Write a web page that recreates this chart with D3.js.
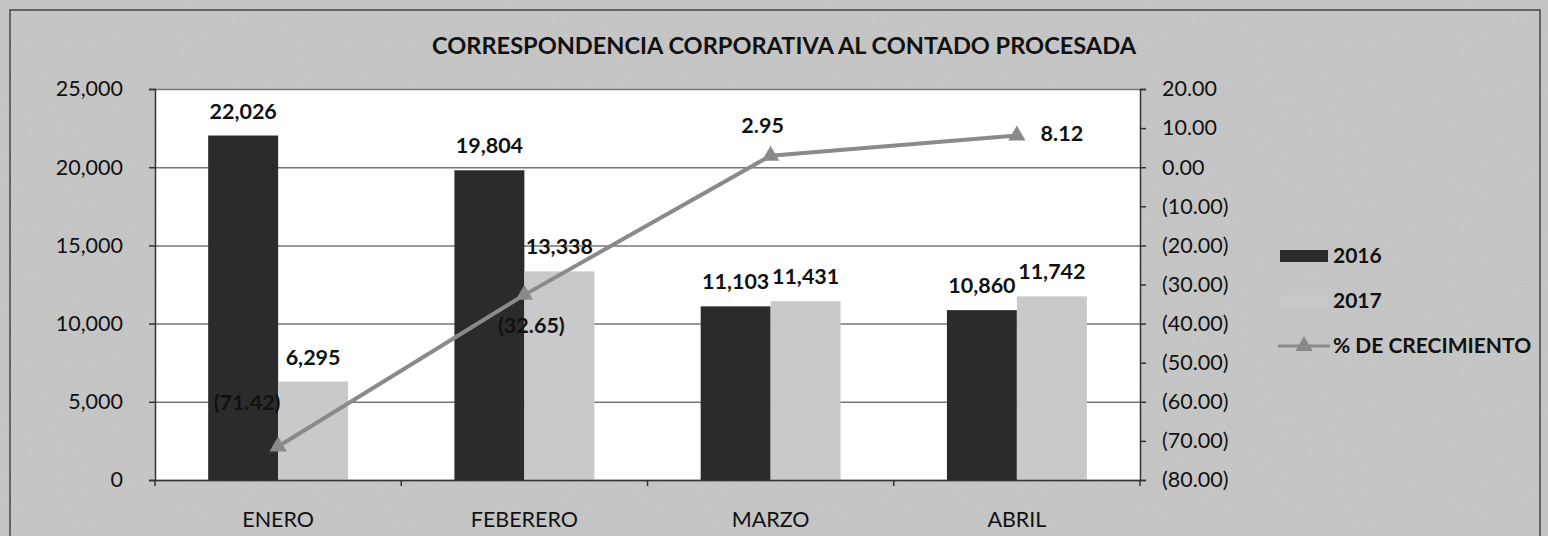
<!DOCTYPE html>
<html>
<head>
<meta charset="utf-8">
<script src="https://cdn.jsdelivr.net/npm/d3@7"></script>
<style>
  html, body { margin: 0; padding: 0; background: #c8c8c8; }
  svg text { font-family: Lato, "Open Sans", sans-serif; fill: #111; }
</style>
</head>
<body>
<div id="chart"></div>
<script>
/* DATA */
const months = ["ENERO", "FEBERERO", "MARZO", "ABRIL"];
const series = ["2016", "2017"];
const values2016 = [22026, 19804, 11103, 10860];
const values2017 = [6295, 13338, 11431, 11742];
const growth = [-71.42, -32.65, 2.95, 8.12];
const leftTicks = [0, 5000, 10000, 15000, 20000, 25000];
const rightTicks = [-80, -70, -60, -50, -40, -30, -20, -10, 0, 10, 20];
const titleText = "CORRESPONDENCIA CORPORATIVA AL CONTADO PROCESADA";
const lineName = "% DE CRECIMIENTO";

const W = 1548, H = 536;
const plot = { left: 155, right: 1140, top: 89, bottom: 480 };
const barColors = { "2016": "#2b2b2e", "2017": "#c9c9cc" };
const lineColor = "#8a8a8c";

const svg = d3.select("#chart").append("svg")
    .attr("width", W)
    .attr("height", H);

// grainy scan texture
const defs = svg.append("defs");
const noise = defs.append("filter").attr("id", "grain")
    .attr("x", 0).attr("y", 0).attr("width", "100%").attr("height", "100%");
noise.append("feTurbulence").attr("type", "fractalNoise")
    .attr("baseFrequency", 0.8).attr("numOctaves", 2).attr("seed", 3);
noise.append("feColorMatrix").attr("type", "matrix")
    .attr("values", "0 0 0 0 0.45  0 0 0 0 0.45  0 0 0 0 0.45  0 0 0 0.6 -0.1");

svg.append("rect").attr("width", W).attr("height", H).attr("fill", "#c9c9c9");
svg.append("rect").attr("width", W).attr("height", H).attr("filter", "url(#grain)");

// outer frame
svg.append("rect")
    .attr("x", 10).attr("y", 10)
    .attr("width", 1530).attr("height", 540)
    .attr("fill", "none").attr("stroke", "#444").attr("stroke-width", 1.5);

// plot area
svg.append("rect")
    .attr("x", plot.left).attr("y", plot.top)
    .attr("width", plot.right - plot.left).attr("height", plot.bottom - plot.top)
    .attr("fill", "#fff");

/* SCALES */
const x = d3.scaleBand().domain(months).range([plot.left, plot.right]);
const xSub = d3.scaleBand().domain(series).range([0, x.bandwidth()])
    .paddingInner(0).paddingOuter(0.76);
const yLeft = d3.scaleLinear().domain([0, 25000]).range([plot.bottom, plot.top]);
const yRight = d3.scaleLinear().domain([-80, 20]).range([plot.bottom, plot.top]);

const fmtInt = d3.format(",");
const fmtPct = v => v < 0 ? "(" + d3.format(".2f")(-v) + ")" : d3.format(".2f")(v);

// gridlines
svg.append("g")
    .attr("transform", `translate(${plot.left},0)`)
    .call(d3.axisLeft(yLeft).tickValues(leftTicks).tickSize(-(plot.right - plot.left)).tickFormat(""))
    .call(g => g.select(".domain").remove())
    .call(g => g.selectAll("line").attr("stroke", "#777").attr("stroke-width", 1.5));

/* BARS */
const rows = months.map((m, i) => ({ month: m, "2016": values2016[i], "2017": values2017[i] }));

const groups = svg.append("g").selectAll("g")
    .data(rows)
    .enter().append("g")
    .attr("transform", d => `translate(${x(d.month)},0)`);

groups.selectAll("rect")
    .data(d => series.map(s => ({ key: s, value: d[s] })))
    .enter().append("rect")
    .attr("x", d => xSub(d.key))
    .attr("y", d => yLeft(d.value))
    .attr("width", xSub.bandwidth())
    .attr("height", d => yLeft(0) - yLeft(d.value))
    .attr("fill", d => barColors[d.key]);

groups.selectAll("text")
    .data(d => series.map(s => ({ key: s, value: d[s] })))
    .enter().append("text")
    .attr("x", d => xSub(d.key) + xSub.bandwidth() / 2)
    .attr("y", d => yLeft(d.value) - 17)
    .attr("text-anchor", "middle")
    .attr("font-size", 21.5)
    .attr("font-weight", "bold")
    .text(d => fmtInt(d.value));

/* AXES */
// left
svg.append("g")
    .attr("transform", `translate(${plot.left},0)`)
    .call(d3.axisLeft(yLeft).tickValues(leftTicks).tickSize(6).tickPadding(26).tickFormat(fmtInt))
    .call(g => g.selectAll("line, path").attr("stroke", "#333").attr("stroke-width", 1.5))
    .call(g => g.selectAll("text").attr("font-size", 21.5).attr("font-family", "Lato, sans-serif").attr("fill", "#111"));

// right
svg.append("g")
    .attr("transform", `translate(${plot.right},0)`)
    .call(d3.axisRight(yRight).tickValues(rightTicks).tickSize(6).tickPadding(16).tickFormat(fmtPct))
    .call(g => g.selectAll("line, path").attr("stroke", "#333").attr("stroke-width", 1.5))
    .call(g => g.selectAll("text").attr("font-size", 21.5).attr("font-family", "Lato, sans-serif").attr("fill", "#111"));

// bottom
const bottom = svg.append("g").attr("transform", `translate(0,${plot.bottom})`);
bottom.call(d3.axisBottom(x).tickSize(0).tickPadding(32))
    .call(g => g.select(".domain").attr("stroke", "#333").attr("stroke-width", 1.5))
    .call(g => g.selectAll("text").attr("font-size", 21.5).attr("font-family", "Lato, sans-serif").attr("fill", "#111"));
bottom.selectAll("line.sep")
    .data(months.map(m => x(m)).concat([plot.right]))
    .enter().append("line")
    .attr("class", "sep")
    .attr("x1", d => d).attr("x2", d => d)
    .attr("y1", 0).attr("y2", 6)
    .attr("stroke", "#333").attr("stroke-width", 1.5);

/* GROWTH LINE */
const pts = months.map((m, i) => ({ month: m, value: growth[i] }));
const cx = d => x(d.month) + x.bandwidth() / 2;

svg.append("path")
    .datum(pts)
    .attr("fill", "none")
    .attr("stroke", lineColor)
    .attr("stroke-width", 4)
    .attr("d", d3.line().x(cx).y(d => yRight(d.value)));

const tri = d3.symbol().type(d3.symbolTriangle).size(130);
svg.append("g").selectAll("path")
    .data(pts)
    .enter().append("path")
    .attr("transform", d => `translate(${cx(d)},${yRight(d.value)})`)
    .attr("d", tri)
    .attr("fill", lineColor);

// growth labels: offsets follow the reference placement
const labelOffsets = [[-31, -36], [7, 38], [-8, -23], [45, 6]];
svg.append("g").selectAll("text")
    .data(pts)
    .enter().append("text")
    .attr("x", (d, i) => cx(d) + labelOffsets[i][0])
    .attr("y", (d, i) => yRight(d.value) + labelOffsets[i][1])
    .attr("text-anchor", "middle")
    .attr("font-size", 21.5)
    .attr("font-weight", "bold")
    .text(d => fmtPct(d.value));

/* TITLE */
svg.append("text")
    .attr("x", 784)
    .attr("y", 54)
    .attr("text-anchor", "middle")
    .attr("font-size", 22.5)
    .attr("font-weight", "bold")
    .attr("textLength", 704)
    .attr("lengthAdjust", "spacingAndGlyphs")
    .text(titleText);

/* LEGEND */
const legend = svg.append("g").attr("transform", "translate(1278,0)");
const legendY = [256, 301, 346];
series.forEach((s, i) => {
    legend.append("rect")
        .attr("x", 2).attr("y", legendY[i] - 6)
        .attr("width", 48).attr("height", 12)
        .attr("fill", barColors[s]);
    legend.append("text")
        .attr("x", 55).attr("y", legendY[i] + 7)
        .attr("font-size", 21).attr("font-weight", "bold")
        .text(s);
});
legend.append("line")
    .attr("x1", 0).attr("x2", 52)
    .attr("y1", legendY[2]).attr("y2", legendY[2])
    .attr("stroke", lineColor).attr("stroke-width", 3);
legend.append("path")
    .attr("transform", `translate(26,${legendY[2]})`)
    .attr("d", tri)
    .attr("fill", lineColor);
legend.append("text")
    .attr("x", 55).attr("y", legendY[2] + 7)
    .attr("font-size", 21).attr("font-weight", "bold")
    .text(lineName);
</script>
</body>
</html>
